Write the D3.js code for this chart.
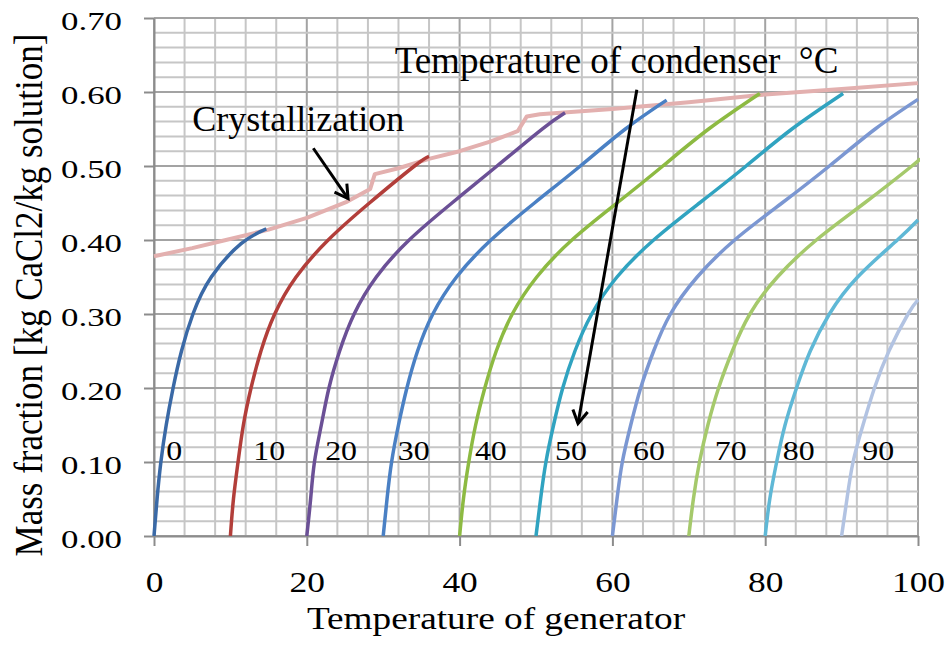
<!DOCTYPE html>
<html>
<head>
<meta charset="utf-8">
<script src="https://cdn.jsdelivr.net/npm/d3@7/dist/d3.min.js"></script>
<style>
  html, body { margin: 0; padding: 0; background: #fff; }
  svg { display: block; }
  text { font-family: "Liberation Serif", "Times New Roman", serif; fill: #000; }
</style>
</head>
<body>
<svg id="chart" width="948" height="646"></svg>
<script>
// ---------- data ----------
const condenserTemps = [0, 10, 20, 30, 40, 50, 60, 70, 80, 90];

// [generator temperature, mass fraction]
const curveT0  = [[0,0],[0.4,0.05],[0.9,0.1],[1.6,0.15],[2.5,0.2],[3.6,0.25],[5.1,0.3],[7.5,0.35],[11.4,0.395],[14.7,0.415]];
const curveT10 = [[10,0],[10.4,0.05],[11.0,0.1],[11.7,0.15],[12.7,0.2],[14.0,0.25],[15.8,0.3],[18.6,0.35],[22.8,0.4],[28.2,0.45],[34.1,0.5],[36.0,0.513]];
const curveT20 = [[20,0],[20.5,0.05],[21.0,0.1],[21.9,0.15],[22.9,0.2],[24.3,0.25],[26.2,0.3],[29.1,0.35],[33.4,0.4],[39.0,0.45],[44.9,0.5],[50.8,0.55],[53.8,0.572]];
const curveT30 = [[30,0],[30.5,0.05],[31.1,0.1],[32.0,0.15],[33.1,0.2],[34.5,0.25],[36.5,0.3],[39.6,0.35],[44.1,0.4],[49.8,0.45],[55.8,0.5],[61.7,0.55],[67.1,0.589]];
const curveT40 = [[40,0],[40.5,0.05],[41.2,0.1],[42.1,0.15],[43.3,0.2],[44.8,0.25],[46.9,0.3],[50.1,0.35],[54.7,0.4],[60.6,0.45],[66.6,0.5],[72.6,0.55],[79.3,0.598]];
const curveT50 = [[50,0],[50.6,0.05],[51.3,0.1],[52.3,0.15],[53.5,0.2],[55.1,0.25],[57.3,0.3],[60.6,0.35],[65.4,0.4],[71.4,0.45],[77.5,0.5],[83.5,0.55],[90.2,0.598]];
const curveT60 = [[60,0],[60.6,0.05],[61.3,0.1],[62.4,0.15],[63.7,0.2],[65.4,0.25],[67.6,0.3],[71.1,0.35],[76.0,0.4],[82.2,0.45],[88.4,0.5],[94.4,0.55],[100,0.59]];
const curveT70 = [[70,0],[70.6,0.05],[71.4,0.1],[72.5,0.15],[73.9,0.2],[75.7,0.25],[78.0,0.3],[81.6,0.35],[86.7,0.4],[93.0,0.45],[99.2,0.5],[100,0.508]];
const curveT80 = [[80,0],[80.6,0.05],[81.5,0.1],[82.6,0.15],[84.1,0.2],[85.9,0.25],[88.4,0.3],[92.1,0.35],[97.3,0.4],[100,0.427]];
const curveT90 = [[90,0],[90.7,0.05],[91.5,0.1],[92.8,0.15],[94.3,0.2],[96.2,0.25],[98.7,0.3],[100,0.319]];

const crystallization = [[0,0.378],[5,0.389],[9,0.399],[15,0.414],[20,0.43],[25.3,0.452],[28.3,0.469],[28.9,0.489],[32,0.497],[36.1,0.51],[40,0.52],[44,0.533],[47.6,0.547],[48.8,0.567],[50.5,0.570],[60,0.577],[70,0.586],[79.3,0.596],[90,0.604],[100,0.612]];

const curveLabelX = [1.6, 13, 22.4, 31.9, 42, 52.5, 62.7, 73.4, 82.3, 92.7];
const curveLabelY = 0.103;

const xTicks = [0, 20, 40, 60, 80, 100];
const yTicks = [0, 0.1, 0.2, 0.3, 0.4, 0.5, 0.6, 0.7];
const yTickLabels = ["0.00","0.10","0.20","0.30","0.40","0.50","0.60","0.70"];

const xTitle = "Temperature of generator";
const yTitle = "Mass fraction [kg CaCl2/kg solution]";
const crystText = "Crystallization";
const condText = "Temperature of condenser \u00a0\u00b0C";
// annotation anchors in data units
const crystTextPos = [5.0, 0.547];
const condTextPos = [31.5, 0.626];
const crystArrow = [[20.85, 0.524], [25.4, 0.456]];
const condArrow = [[63.2, 0.603], [55.5, 0.152]];

const curveColors = ["#3A69A6","#B23E3A","#6B5096","#4A80C4","#8DBA42","#30A3C0","#7B97D2","#A5C96B","#5FB8D6","#B2C3E2"];
const crystColor = "#E3B0AF";

// ---------- layout ----------
const svg = d3.select("#chart");
const W = 948, H = 646;
const pL = 154, pR = 918, pT = 18, pB = 536;

const x = d3.scaleLinear().domain([0, 100]).range([pL, pR]);
const y = d3.scaleLinear().domain([0, 0.7]).range([pB, pT]);

svg.append("rect").attr("width", W).attr("height", H).attr("fill", "#fff");

// grid
const grid = svg.append("g");
const xMinor = d3.range(0, 100.001, 4);
const yMinor = d3.range(0, 71).filter(v => v % 2 === 0).map(v => v / 100);
grid.selectAll(".vx").data(xMinor).join("line")
  .attr("x1", d => x(d)).attr("x2", d => x(d))
  .attr("y1", y(0)).attr("y2", y(0.7))
  .attr("stroke", d => (Math.round(d) % 20 === 0) ? "#A3A3A3" : "#C6C6C6")
  .attr("stroke-width", 2);
grid.selectAll(".hy").data(yMinor).join("line")
  .attr("x1", x(0)).attr("x2", x(100))
  .attr("y1", d => y(d)).attr("y2", d => y(d))
  .attr("stroke", d => (Math.round(d * 100) % 10 === 0) ? "#A3A3A3" : "#C6C6C6")
  .attr("stroke-width", 2);

// axes
const serif = "'Liberation Serif', 'Times New Roman', serif";
const xAxis = svg.append("g").attr("transform", `translate(0,${pB})`)
  .call(d3.axisBottom(x).tickValues(xTicks).tickSize(10).tickSizeOuter(0).tickFormat(d3.format("d")));
xAxis.attr("font-family", serif);
xAxis.select(".domain").attr("stroke", "#8C8C8C").attr("stroke-width", 2);
xAxis.selectAll(".tick line").attr("stroke", "#8C8C8C").attr("stroke-width", 2);
xAxis.selectAll(".tick text")
  .attr("y", 0).attr("dy", null)
  .attr("transform", "translate(0,592) scale(1.18,1)".replace("592", "56"))
  .style("font-size", "30px")
  .style("font-family", serif)
  .attr("fill", "#000");

const yAxis = svg.append("g").attr("transform", `translate(${pL},0)`)
  .call(d3.axisLeft(y).tickValues(yTicks).tickSize(10).tickSizeOuter(0).tickFormat((d, i) => yTickLabels[i]));
yAxis.attr("font-family", serif);
yAxis.select(".domain").attr("stroke", "#8C8C8C").attr("stroke-width", 2);
yAxis.selectAll(".tick line").attr("stroke", "#8C8C8C").attr("stroke-width", 2);
yAxis.selectAll(".tick text")
  .attr("x", 0).attr("dy", "0.44em")
  .attr("transform", "translate(-32,0) scale(1.34,1)")
  .style("font-size", "26px")
  .style("font-family", serif)
  .attr("fill", "#000");

// clip
svg.append("clipPath").attr("id", "plotclip").append("rect")
  .attr("x", pL - 2).attr("y", pT - 2).attr("width", pR - pL + 4).attr("height", pB - pT + 2);

const plot = svg.append("g").attr("clip-path", "url(#plotclip)");

const smooth = d3.line().x(d => x(d[0])).y(d => y(d[1])).curve(d3.curveNatural);
const straight = d3.line().x(d => x(d[0])).y(d => y(d[1]));

plot.append("path").datum(crystallization)
  .attr("d", straight).attr("fill", "none")
  .attr("stroke", crystColor).attr("stroke-width", 4).attr("stroke-linejoin", "round");

const curves = [curveT0, curveT10, curveT20, curveT30, curveT40, curveT50, curveT60, curveT70, curveT80, curveT90];
plot.selectAll(".curve").data(curves).join("path")
  .attr("d", smooth).attr("fill", "none")
  .attr("stroke", (d, i) => curveColors[i]).attr("stroke-width", 3.5)
  .attr("stroke-linecap", "butt");

// curve labels
svg.selectAll(".clabel").data(condenserTemps).join("text")
  .attr("transform", (d, i) => `translate(${x(curveLabelX[i])},${y(curveLabelY)}) scale(1.18,1)`)
  .attr("text-anchor", "start")
  .style("font-size", "27px")
  .text(d => d);

// annotations
svg.append("text")
  .attr("x", x(crystTextPos[0])).attr("y", y(crystTextPos[1]))
  .style("font-size", "36px").text(crystText);
svg.append("text")
  .attr("x", x(condTextPos[0])).attr("y", y(condTextPos[1]))
  .style("font-size", "37px").text(condText);

function arrow(pts) {
  const [p0, p1] = pts.map(p => [x(p[0]), y(p[1])]);
  const ang = Math.atan2(p1[1] - p0[1], p1[0] - p0[0]);
  const L = 15, a = Math.PI / 6;
  const w1 = [p1[0] - L * Math.cos(ang - a), p1[1] - L * Math.sin(ang - a)];
  const w2 = [p1[0] - L * Math.cos(ang + a), p1[1] - L * Math.sin(ang + a)];
  svg.append("path")
    .attr("d", `M${p0[0]},${p0[1]}L${p1[0]},${p1[1]}`)
    .attr("stroke", "#000").attr("stroke-width", 3).attr("fill", "none");
  svg.append("path")
    .attr("d", `M${w1[0]},${w1[1]}L${p1[0]},${p1[1]}L${w2[0]},${w2[1]}`)
    .attr("stroke", "#000").attr("stroke-width", 3).attr("fill", "none")
    .attr("stroke-linejoin", "miter");
}
arrow(crystArrow);
arrow(condArrow);

// axis titles
svg.append("text")
  .attr("transform", `translate(${(pL + pR) / 2 - 40},629) scale(1.165,1)`)
  .attr("text-anchor", "middle")
  .style("font-size", "32px").text(xTitle);
svg.append("text")
  .attr("transform", `translate(42,295) rotate(-90) scale(1,1.15)`)
  .attr("text-anchor", "middle")
  .style("font-size", "35px").text(yTitle);
</script>
</body>
</html>
